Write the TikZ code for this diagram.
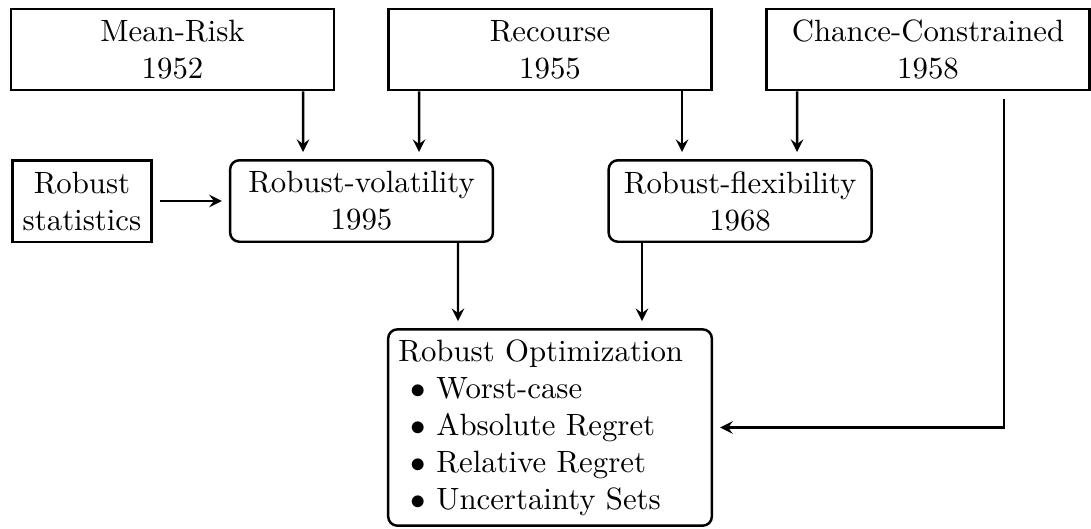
\documentclass[tikz,border=0pt]{standalone}
\usepackage{amsmath,amssymb}
\usepackage{xcolor}
\usepackage{tikz}
\usetikzlibrary{arrows}

\begin{document}
\begin{tikzpicture}[
    >=stealth,
    origin/.style={draw,thick,align=center,minimum width=3.69cm,minimum height=0.93cm},
    branch/.style={draw,thick,rounded corners=3pt,align=center,minimum width=3cm,minimum height=0.93cm},
    arr/.style={->,thick,shorten >=0.08cm}
  ]
    \useasboundingbox (0,0) rectangle (12.451,-6.037);
    %
    \node[origin] (mr) at (1.969,-0.565) {Mean-Risk\\1952};
    \node[origin] (rec) at (6.277,-0.565) {Recourse\\1955};
    \node[origin] (cc) at (10.591,-0.565) {Chance-Constrained\\1958};
    %
    \node[draw,thick,align=center,minimum height=0.93cm] (rs) at (0.936,-2.294) {Robust\\statistics};
    \node[branch] (rv) at (4.126,-2.294) {Robust-volatility\\1995};
    \node[branch] (rf) at (8.446,-2.294) {Robust-flexibility\\1968};
    %
    \node[draw,thick,rounded corners=3pt,align=left,text width=3.46cm] (ro) at (6.277,-4.879)
      {Robust Optimization\\
       \hspace*{4pt}$\bullet$ Worst-case\\
       \hspace*{4pt}$\bullet$ Absolute Regret\\
       \hspace*{4pt}$\bullet$ Relative Regret\\
       \hspace*{4pt}$\bullet$ Uncertainty Sets};
    %
    \draw[arr] ([xshift=1.49cm]mr.south) -- ([xshift=-0.668cm]rv.north);
    \draw[arr] ([xshift=-1.495cm]rec.south) -- ([xshift=0.656cm]rv.north);
    \draw[arr] ([xshift=1.507cm]rec.south) -- ([xshift=-0.662cm]rf.north);
    \draw[arr] ([xshift=-1.495cm]cc.south) -- ([xshift=0.65cm]rf.north);
    \draw[arr,shorten <=0.08cm] (rs) -- (rv);
    \draw[arr] ([xshift=1.101cm]rv.south) -- ([xshift=-1.05cm]ro.north);
    \draw[arr] ([xshift=-1.119cm]rf.south) -- ([xshift=1.05cm]ro.north);
    \draw[arr,shorten <=0.08cm] ([xshift=0.868cm]cc.south) |- (ro.east);
  \end{tikzpicture}
\end{document}
